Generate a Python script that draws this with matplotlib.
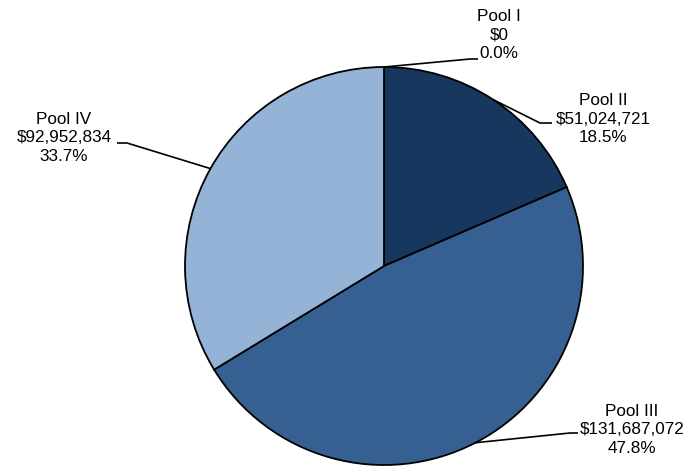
import matplotlib
matplotlib.use("Agg")
import numpy as np
import matplotlib.pyplot as plt

pools = ["Pool I", "Pool II", "Pool III", "Pool IV"]
amounts = [0, 51024721, 131687072, 92952834]
colors = ["#17375E", "#17375E", "#366092", "#95B3D7"]

W, H = 694, 466
fig = plt.figure(figsize=(W / 100, H / 100), dpi=100)
ax = fig.add_axes([0, 0, 1, 1])

cx, cy, r = 384, H - 266, 199
wedges, _ = ax.pie(amounts, colors=colors, startangle=90, counterclock=False,
                   center=(cx, cy), radius=r, frame=True,
                   wedgeprops=dict(edgecolor="black", linewidth=1.3))
ax.set_xlim(0, W)
ax.set_ylim(0, H)
ax.set_aspect("equal")
ax.axis("off")

total = sum(amounts)
# label text centres and leader elbows (pixel coords from top)
text_pos = [(499, 35), (603, 119), (632, 430), (64, 138)]
elbows = [((470, 59), (478, 59)), ((540, 123), (552, 123)),
          ((570, 433), (578, 433)), ((127, 143), (117, 143))]

for w, name, amt, (tx, ty), (e1, e2) in zip(wedges, pools, amounts, text_pos, elbows):
    ang = np.deg2rad((w.theta1 + w.theta2) / 2)
    px, py = cx + r * np.cos(ang), cy + r * np.sin(ang)
    ax.plot([px, e1[0], e2[0]], [py, H - e1[1], H - e2[1]], color="black", lw=1.2,
            solid_capstyle="butt")
    txt = f"{name}\n${amt:,.0f}\n{100 * amt / total:.1f}%"
    ax.text(tx, H - ty, txt, ha="center", va="center", multialignment="center",
            fontsize=12.3, family="Liberation Sans", linespacing=1.3)

fig.savefig("out.png", dpi=100)
